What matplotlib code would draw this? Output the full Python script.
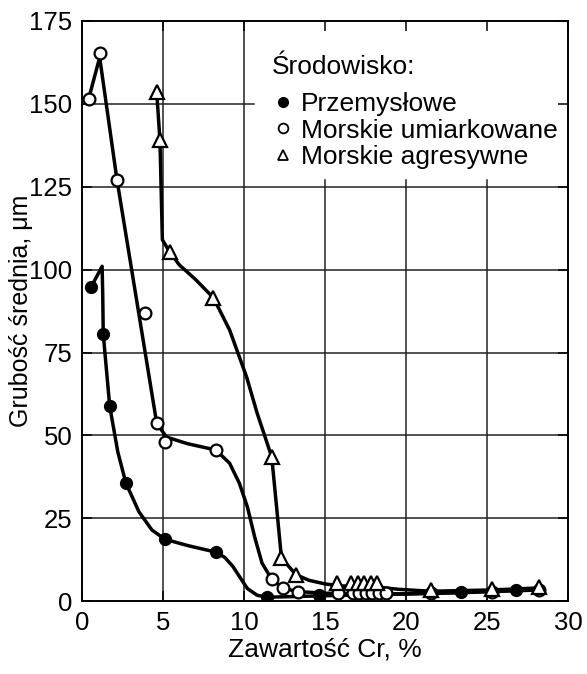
import matplotlib
matplotlib.use("Agg")
import matplotlib.pyplot as plt
from matplotlib.lines import Line2D

plt.rcParams['font.family'] = ['Liberation Sans', 'DejaVu Sans']

# --- Data ---
# Przemysłowe (filled circles): markers and hand-drawn curve path
x_p = [0.55, 1.3, 1.7, 2.7, 5.1, 8.25, 11.4, 14.6, 23.4, 26.8]
y_p = [94.7, 80.6, 58.8, 35.6, 18.7, 14.8, 1.2, 1.8, 2.7, 3.3]
xc_p = [0.55, 1.23, 1.27, 1.3, 1.7, 2.2, 2.7, 3.5, 4.3, 5.1, 6.5, 8.25, 8.8, 9.3,
        9.7, 10.2, 10.8, 11.4, 14.6, 20.0, 23.4, 26.8, 28.0]
yc_p = [94.7, 101.0, 92.0, 80.6, 58.8, 45.0, 35.6, 27.0, 21.5, 18.7, 16.8, 14.8, 13.2, 10.5,
        7.5, 3.8, 1.8, 1.2, 1.6, 2.2, 2.7, 3.3, 3.5]

# Morskie umiarkowane (open circles)
x_m = [0.4, 1.1, 2.15, 3.9, 4.6, 5.1, 8.25, 11.7, 12.4, 13.3, 15.8, 16.7, 17.1,
       17.5, 17.9, 18.3, 18.75, 21.5, 25.3, 28.2]
y_m = [151.5, 165.4, 127.0, 86.9, 53.7, 48.0, 45.6, 6.6, 3.9, 2.7, 2.4, 2.4, 2.4,
       2.4, 2.4, 2.4, 2.4, 2.4, 2.9, 3.4]
xc_m = [0.4, 1.08, 2.15, 4.6, 5.2, 6.5, 8.25, 9.1, 9.7, 10.2, 10.65, 11.1, 11.7,
        12.4, 13.3, 15.0, 17.0, 20.0, 23.0, 25.3, 28.2]
yc_m = [151.5, 164.0, 127.0, 53.7, 49.5, 47.5, 45.6, 41.6, 35.6, 28.4, 19.3, 11.5, 6.6,
        3.9, 2.9, 2.4, 2.3, 2.2, 2.5, 2.9, 3.4]

# Morskie agresywne (open triangles)
x_a = [4.6, 4.8, 5.4, 8.1, 11.7, 12.3, 13.2, 15.75, 16.6, 17.0, 17.4, 17.8, 18.2,
       21.5, 25.3, 28.2]
y_a = [153.6, 139.0, 105.3, 91.5, 43.5, 13.0, 8.0, 5.4, 5.4, 5.4, 5.4, 5.4, 5.4,
       3.3, 3.8, 4.2]
xc_a = [4.6, 4.8, 4.95, 5.4, 6.0, 7.0, 8.1, 9.1, 10.15, 10.8, 11.7, 12.0, 12.3, 13.2,
        14.0, 15.0, 16.0, 18.0, 19.5, 21.5, 25.3, 28.2]
yc_a = [153.6, 139.0, 109.0, 105.3, 101.4, 97.0, 91.5, 81.8, 67.6, 56.7, 43.5, 28.4, 13.0, 8.0,
        6.3, 5.2, 4.6, 4.4, 3.6, 3.0, 3.4, 4.0]

legend_title = "Środowisko:"
labels = ["Przemysłowe", "Morskie umiarkowane", "Morskie agresywne"]
x_ticks = [0, 5, 10, 15, 20, 25, 30]
y_ticks = [0, 25, 50, 75, 100, 125, 150, 175]

fig = plt.figure(figsize=(5.87, 6.74), dpi=100)
ax = fig.add_axes([0.14, 0.108, 0.828, 0.861])
ax.set_xlim(0, 30)
ax.set_ylim(0, 175)

# grid (partially hidden behind the legend area)
gkw = dict(color='#222222', lw=1.1, zorder=1)
for xv in [5, 10]:
    ax.axvline(xv, **gkw)
for xv in [15, 20, 25]:
    ax.axvline(xv, ymax=127 / 175, **gkw)
for yv in [25, 50, 75, 100, 125]:
    ax.axhline(yv, **gkw)
ax.axhline(150, xmax=10.6 / 30, **gkw)

lkw = dict(color='black', lw=2.5, zorder=2, solid_capstyle='round', solid_joinstyle='round')
ax.plot(xc_p, yc_p, **lkw)
ax.plot(xc_m, yc_m, **lkw)
ax.plot(xc_a, yc_a, **lkw)

ax.plot(x_p, y_p, ls='none', marker='o', ms=8.5, mfc='black', mec='black', zorder=3)
ax.plot(x_m, y_m, ls='none', marker='o', ms=8.5, mfc='white', mec='black', mew=1.6, zorder=3)
ax.plot(x_a, y_a, ls='none', marker='^', ms=9.5, mfc='white', mec='black', mew=1.6, zorder=3)

ax.set_xticks(x_ticks)
ax.set_yticks(y_ticks)
ax.tick_params(direction='in', length=7, width=1.1, top=True, right=True,
               labelsize=18.5, pad=7)
for s in ax.spines.values():
    s.set_linewidth(1.4)

ax.set_xlabel("Zawartość Cr, %", fontsize=19, labelpad=2)
ax.set_ylabel("Grubość średnia, μm", fontsize=18, labelpad=-3)

ax.text(0.391, 0.921, legend_title, transform=ax.transAxes, fontsize=19,
        ha='left', va='center')
handles = [
    Line2D([], [], ls='none', marker='o', ms=7, mfc='black', mec='black'),
    Line2D([], [], ls='none', marker='o', ms=7, mfc='white', mec='black', mew=1.3),
    Line2D([], [], ls='none', marker='^', ms=7.5, mfc='white', mec='black', mew=1.3),
]
leg = ax.legend(handles, labels, loc='upper left',
                bbox_to_anchor=(0.357, 0.909), frameon=False, fontsize=19,
                handlelength=0.7, handletextpad=0.33, labelspacing=0.09,
                borderpad=0.2)

fig.savefig("out.png", dpi=100)
